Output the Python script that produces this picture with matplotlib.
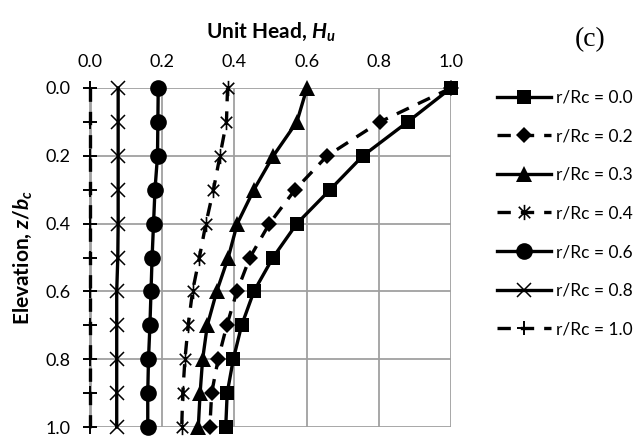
import matplotlib
matplotlib.use("Agg")
import matplotlib.pyplot as plt
from matplotlib.path import Path

plt.rcParams['font.family'] = ['Lato', 'DejaVu Sans']
plt.rcParams['mathtext.fontset'] = 'custom'
plt.rcParams['mathtext.it'] = 'Lato:italic:bold'
plt.rcParams['mathtext.rm'] = 'Lato:bold'
plt.rcParams['mathtext.bf'] = 'Lato:bold'

elevation = [0.0, 0.1, 0.2, 0.3, 0.4, 0.5, 0.6, 0.7, 0.8, 0.9, 1.0]

head_r00 = [1.000, 0.880, 0.756, 0.665, 0.573, 0.507, 0.454, 0.420, 0.397, 0.380, 0.376]
head_r02 = [1.000, 0.803, 0.657, 0.568, 0.497, 0.443, 0.407, 0.379, 0.355, 0.337, 0.332]
head_r03 = [0.601, 0.573, 0.508, 0.454, 0.408, 0.383, 0.351, 0.325, 0.312, 0.305, 0.300]
head_r04 = [0.381, 0.378, 0.360, 0.342, 0.321, 0.303, 0.284, 0.272, 0.263, 0.257, 0.254]
head_r06 = [0.189, 0.188, 0.187, 0.180, 0.176, 0.172, 0.169, 0.166, 0.162, 0.160, 0.160]
head_r08 = [0.078, 0.078, 0.078, 0.078, 0.078, 0.077, 0.074, 0.074, 0.074, 0.074, 0.074]
head_r10 = [0.0, 0.0, 0.0, 0.0, 0.0, 0.0, 0.0, 0.0, 0.0, 0.0, 0.0]

labels = ['r/Rc = 0.0', 'r/Rc = 0.2', 'r/Rc = 0.3', 'r/Rc = 0.4',
          'r/Rc = 0.6', 'r/Rc = 0.8', 'r/Rc = 1.0']
xticks = [0.0, 0.2, 0.4, 0.6, 0.8, 1.0]
yticks = [0.0, 0.2, 0.4, 0.6, 0.8, 1.0]

# Excel-style star marker: an "x" plus a vertical bar
star = Path([(0, -1), (0, 1), (-0.75, -0.75), (0.75, 0.75), (-0.75, 0.75), (0.75, -0.75)],
            [Path.MOVETO, Path.LINETO, Path.MOVETO, Path.LINETO, Path.MOVETO, Path.LINETO])

fig = plt.figure(figsize=(6.35, 4.38), dpi=100)
ax = fig.add_axes([90/635, 1-427/438, (451-90)/635, (427-88)/438])

lw = 2.4
dash = (0, (4, 3))
styles = [
    dict(ls='-', marker='s', ms=10.5, mew=0),
    dict(ls=dash, marker='D', ms=8, mew=0),
    dict(ls='-', marker='^', ms=11, mew=0),
    dict(ls=dash, marker=star, ms=11, mew=1.2),
    dict(ls='-', marker='o', ms=12, mew=0),
    dict(ls='-', marker='x', ms=10.5, mew=1.1),
    dict(ls=dash, marker='+', ms=10, mew=1.4),
]
series = [head_r00, head_r02, head_r03, head_r04, head_r06, head_r08, head_r10]

for vals, st, lab in zip(series, styles, labels):
    ax.plot(vals, elevation, color='black', lw=lw, mfc='black', mec='black',
            label=lab, clip_on=False, zorder=3, **st)

ax.set_xlim(0, 1)
ax.set_ylim(1, 0)
ax.set_xticks(xticks)
ax.set_yticks(yticks)
ax.set_xticklabels([f'{v:.1f}' for v in xticks])
ax.set_yticklabels([f'{v:.1f}' for v in yticks])
ax.xaxis.tick_top()
ax.xaxis.set_label_position('top')
ax.tick_params(axis='x', length=0, pad=13, labelsize=13)
ax.tick_params(axis='y', length=0, pad=14, labelsize=13)
ax.grid(True, color='#a0a0a0', lw=1.3)
for s in ['top', 'right', 'bottom']:
    ax.spines[s].set_visible(False)
ax.spines['left'].set_color('#a0a0a0')
ax.spines['left'].set_linewidth(2)

ax.set_xlabel(r'Unit Head, $H_u$', fontsize=15, fontweight='bold', labelpad=12)
ax.set_ylabel(r'Elevation, $z/b_c$', fontsize=15, fontweight='bold', labelpad=8)

fig.text(590/635, 1-40/438, '(c)', fontsize=20, family='Liberation Serif',
         ha='center', va='center')

leg = fig.legend(loc='center left', bbox_to_anchor=(497/635, 1-213.5/438),
                 frameon=False, borderpad=0, borderaxespad=0,
                 handlelength=3.1, handletextpad=0.3, labelspacing=1.3,
                 fontsize=12.5)

fig.savefig('out.png', dpi=100)
